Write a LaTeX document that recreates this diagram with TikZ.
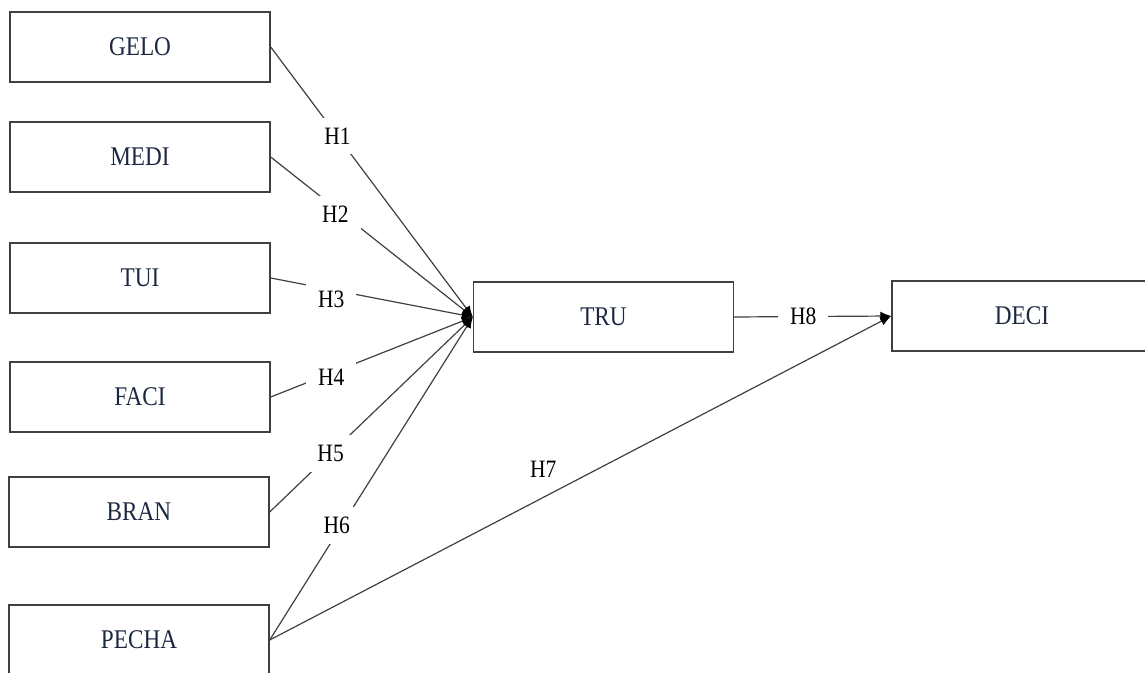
\documentclass[tikz,border=0pt]{standalone}
\usepackage{fontspec}
\setmainfont{Liberation Serif}[FakeStretch=0.86]
\usetikzlibrary{arrows.meta}
\definecolor{boxtext}{HTML}{1C2841}
\definecolor{edge}{HTML}{404040}

\begin{document}
\begin{tikzpicture}[x=0.5pt,y=-0.5pt,>={Latex[length=5.5pt,width=4.5pt,color=black]},
    construct/.style={draw=edge,line width=0.7pt,minimum width=130pt,
      minimum height=35pt,inner sep=0pt,text=boxtext,
      font=\fontsize{13.5}{16}\selectfont},
    link/.style={draw=edge,line width=0.6pt},
    hyp/.style={fill=white,inner xsep=6pt,inner ysep=5pt,text=black,
      font=\fontsize{12.5}{15}\selectfont}]
  \useasboundingbox (0,0) rectangle (1145,673);
  % exogenous constructs
  \node[construct] (gelo)  at (140,47)  {GELO};
  \node[construct] (medi)  at (140,157) {MEDI};
  \node[construct] (tui)   at (140,278) {TUI};
  \node[construct] (faci)  at (140,397) {FACI};
  \node[construct] (bran)  at (139,512) {BRAN};
  \node[construct] (pecha) at (139,640) {PECHA};
  % mediator and outcome
  \node[construct] (tru)  at (603.5,317) {TRU};
  \node[construct] (deci) at (1022,316)  {DECI};
  % paths into TRU
  \draw[link,->] (gelo.east)  -- node[hyp,pos=0.33] (h1) {H1} (tru.west);
  \draw[link,->] (medi.east)  -- node[hyp,pos=0.32,yshift=-3pt] (h2) {H2} (tru.west);
  \draw[link,->] (tui.east)   -- node[hyp,pos=0.3,yshift=-5pt] (h3) {H3} (tru.west);
  \draw[link,->] (faci.east)  -- node[hyp,pos=0.3,yshift=-2pt] (h4) {H4} (tru.west);
  \draw[link,->] (bran.east)  -- node[hyp,pos=0.3] (h5) {H5} (tru.west);
  \draw[link,->] (pecha.east) -- node[hyp,pos=0.33,yshift=4pt] (h6) {H6} (tru.west);
  % paths into DECI
  \draw[link,->] (pecha.east) -- node[hyp,fill=none,pos=0.44,yshift=14pt] (h7) {H7} (deci.west);
  \draw[link,->] (tru.east)   -- node[hyp,pos=0.44] (h8) {H8} (deci.west);
\end{tikzpicture}
\end{document}
